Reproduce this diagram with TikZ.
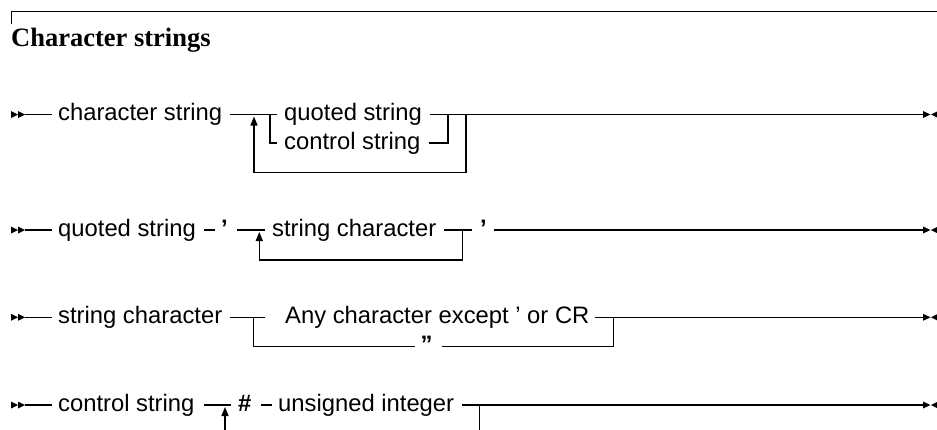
\documentclass[tikz,border=0pt]{standalone}
\usepackage{fontspec}
\setmainfont{Liberation Sans}
\newfontfamily\titlefont{Liberation Serif}
\usetikzlibrary{arrows.meta}
\begin{document}
\begin{tikzpicture}[x=1pt,y=-1pt,
  rail/.style={line width=1.4pt, line join=miter},
  framerule/.style={line width=1.1pt},
  lbl/.style={inner sep=0pt, anchor=base west, font=\fontsize{23.8}{28}\selectfont},
  lblb/.style={inner sep=0pt, anchor=base west, font=\fontsize{23.8}{28}\selectfont\bfseries},
  loopup/.style={rail, -{Triangle[length=9pt,width=7pt]}},
  startmark/.pic={\fill (0,-3.5) -- (7,0) -- (0,3.5) -- cycle; \fill (7,-3.5) -- (14,0) -- (7,3.5) -- cycle;},
  endmark/.pic={\fill (0,-3.5) -- (7.5,0) -- (0,3.5) -- cycle; \fill (15,-3.5) -- (8,0) -- (15,3.5) -- cycle;}]
\useasboundingbox (0,0) rectangle (937,429);
\clip (0,0) rectangle (937,429);

% title and frame
\coordinate (fr0) at (11.7,24);
\coordinate (fr1) at (11.7,11.7);
\coordinate (fr2) at (945,11.7);
\draw[framerule] (fr0) -- (fr1) -- (fr2);
\node[inner sep=0pt, anchor=base west, font=\titlefont\bfseries\fontsize{26.5}{30}\selectfont] (title) at (11,46.7) {Character strings};

% ---------- row 1 ----------
\coordinate (r1) at (0,114.5);
\coordinate (r1b) at (0,143);
\coordinate (r1l) at (0,172.5);
\pic at (11,114.5) {startmark};
\coordinate (s1) at (25,114.5);
\node[lbl] (cs) at (58,120.7) {character string};
\node[lbl] (qs) at (284,120.7) {quoted string};
\node[lbl] (ctl) at (284,149.2) {control string};
\coordinate (a1) at (254,114.5);
\coordinate (b1) at (270,114.5);
\coordinate (c1) at (448,114.5);
\coordinate (d1) at (466,114.5);
\coordinate (e1) at (923,114.5);
\pic at (923,114.5) {endmark};
\draw[rail] (s1) -- ([xshift=-6pt]cs.west |- r1);
\draw[rail] ([xshift=8pt]cs.east |- r1) -- ([xshift=-7pt]qs.west |- r1);
\draw[rail] (b1) |- ([xshift=-7pt]ctl.west |- r1b);
\draw[rail] ([xshift=8pt]qs.east |- r1) -- (e1);
\draw[rail] ([xshift=8pt]ctl.east |- r1b) -| (c1);
\draw[loopup] (d1) |- (a1 |- r1l) -- ([yshift=-2pt]a1);

% ---------- row 2 ----------
\coordinate (r2) at (0,230);
\coordinate (r2l) at (0,260);
\pic at (11,230) {startmark};
\coordinate (s2) at (25,230);
\node[lbl] (qs2) at (58,236.2) {quoted string};
\node[lblb] (ap1) at (221,236.2) {'};
\node[lbl] (sc) at (272,236.2) {string character};
\node[lblb] (ap2) at (480,236.2) {'};
\coordinate (a2) at (259.3,230);
\coordinate (c2) at (462.3,230);
\coordinate (e2) at (923,230);
\pic at (923,230) {endmark};
\draw[rail] (s2) -- ([xshift=-6pt]qs2.west |- r2);
\draw[rail] ([xshift=8pt]qs2.east |- r2) -- ([xshift=-6pt]ap1.west |- r2);
\draw[rail] ([xshift=9pt]ap1.east |- r2) -- ([xshift=-7pt]sc.west |- r2);
\draw[rail] ([xshift=8pt]sc.east |- r2) -- ([xshift=-8.3pt]ap2.west |- r2);
\draw[rail] ([xshift=6.7pt]ap2.east |- r2) -- (e2);
\draw[loopup] (c2) |- (a2 |- r2l) -- ([yshift=-2pt]a2);

% ---------- row 3 ----------
\coordinate (r3) at (0,317.3);
\coordinate (r3b) at (0,346.7);
\pic at (11,317.3) {startmark};
\coordinate (s3) at (25,317.3);
\node[lbl] (sch) at (58,323.5) {string character};
\node[lbl] (any) at (285,323.5) {Any character except ' or CR};
\node[lblb] (dq) at (420.5,352.9) {''};
\coordinate (a3) at (253.3,317.3);
\coordinate (c3) at (613.3,317.3);
\coordinate (e3) at (923,317.3);
\pic at (923,317.3) {endmark};
\draw[rail] (s3) -- ([xshift=-6pt]sch.west |- r3);
\draw[rail] ([xshift=8pt]sch.east |- r3) -- ([xshift=-20pt]any.west |- r3);
\draw[rail] (a3) |- ([xshift=-5.5pt]dq.west |- r3b);
\draw[rail] ([xshift=9pt]dq.east |- r3b) -| (c3);
\draw[rail] ([xshift=5pt]any.east |- r3) -- (e3);

% ---------- row 4 ----------
\coordinate (r4) at (0,405);
\coordinate (r4l) at (0,445);
\pic at (11,405) {startmark};
\coordinate (s4) at (25,405);
\node[lbl] (ctl4) at (58,411.2) {control string};
\node[lblb] (hash) at (237.8,411.2) {\#};
\node[lbl] (ui) at (278,411.2) {unsigned integer};
\coordinate (a4) at (225,405);
\coordinate (c4) at (479.3,405);
\coordinate (e4) at (923,405);
\pic at (923,405) {endmark};
\draw[rail] (s4) -- ([xshift=-6pt]ctl4.west |- r4);
\draw[rail] ([xshift=9pt]ctl4.east |- r4) -- ([xshift=-7pt]hash.west |- r4);
\draw[rail] ([xshift=10pt]hash.east |- r4) -- ([xshift=-6.3pt]ui.west |- r4);
\draw[rail] ([xshift=8pt]ui.east |- r4) -- (e4);
\draw[loopup] (c4) |- (a4 |- r4l) -- ([yshift=-2pt]a4);
\end{tikzpicture}
\end{document}
